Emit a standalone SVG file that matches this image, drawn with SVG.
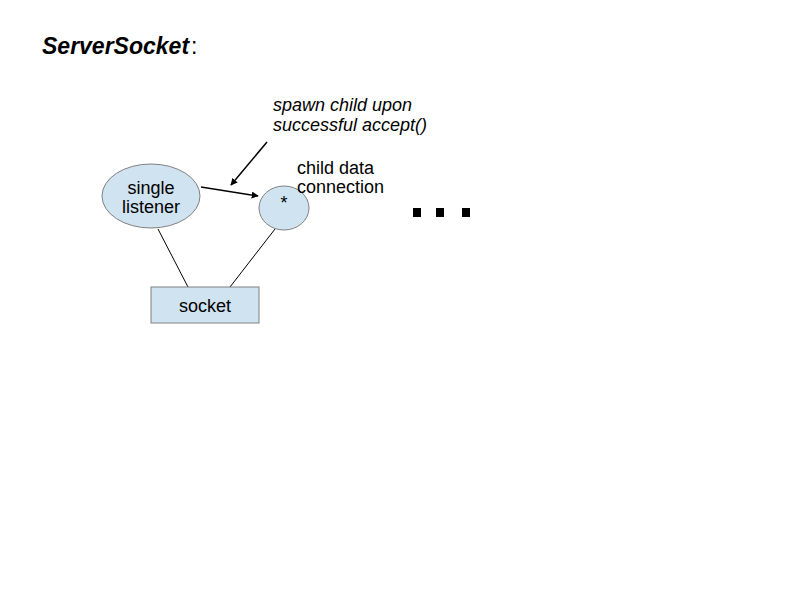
<svg xmlns="http://www.w3.org/2000/svg" width="794" height="595" viewBox="0 0 794 595">
<defs>
<style>
text{font-family:"Liberation Sans",Arial,sans-serif;fill:#000}
.shape{fill:#cfe3f1;stroke:#808080;stroke-width:1}
.lbl{font-size:18px}
.it{font-size:18px;font-style:italic}
.conn{stroke:#000;stroke-width:1;fill:none}
.arr{stroke:#000;stroke-width:1.5;fill:none;marker-end:url(#ah)}
</style>
<marker id="ah" viewBox="0 0 10 10" refX="9" refY="5" markerWidth="7" markerHeight="7" orient="auto" markerUnits="userSpaceOnUse">
<path d="M0,0 L10,5 L0,10 z" fill="#000"/>
</marker>
</defs>
<rect width="794" height="595" fill="#fff"/>
<g id="title">
<text x="42" y="54" style="font-size:23px;font-weight:bold;font-style:italic">ServerSocket</text>
<text x="191" y="54" style="font-size:23px">:</text>
</g>
<g id="connectors">
<line class="conn" x1="158" y1="229" x2="188" y2="287"/>
<line class="conn" x1="275" y1="229" x2="230" y2="287"/>
<line class="arr" x1="201" y1="187" x2="258" y2="196"/>
<line class="arr" x1="267" y1="142" x2="231" y2="185"/>
</g>
<g id="listener">
<ellipse class="shape" cx="151" cy="196" rx="49" ry="32"/>
<text class="lbl" x="151" y="194" text-anchor="middle">single</text>
<text class="lbl" x="151" y="213" text-anchor="middle">listener</text>
</g>
<g id="child">
<ellipse class="shape" cx="284" cy="208" rx="25" ry="22"/>
<text x="284" y="209" text-anchor="middle" style="font-size:18px">*</text>
</g>
<g id="socket">
<rect class="shape" x="151" y="287" width="108" height="36"/>
<text class="lbl" x="205" y="312" text-anchor="middle">socket</text>
</g>
<g id="spawn-label">
<text class="it" x="273" y="111">spawn child upon</text>
<text class="it" x="273" y="131">successful accept()</text>
</g>
<g id="child-label">
<text class="lbl" x="297" y="174">child data</text>
<text class="lbl" x="297" y="193">connection</text>
</g>
<g id="ellipsis">
<rect x="413" y="208" width="8" height="9" fill="#000"/>
<rect x="436" y="208" width="8" height="9" fill="#000"/>
<rect x="462" y="208" width="8" height="9" fill="#000"/>
</g>
</svg>
